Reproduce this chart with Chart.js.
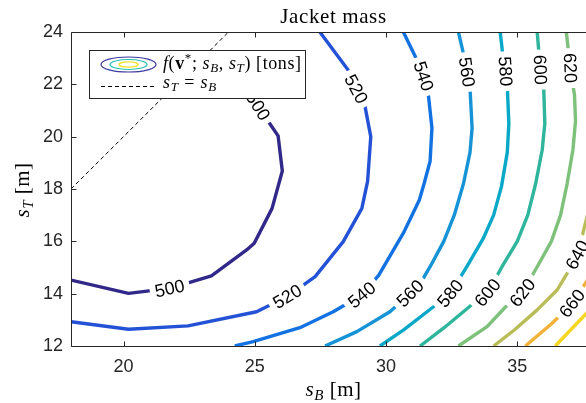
<!DOCTYPE html>
<html><head><meta charset="utf-8">
<script src="https://cdn.jsdelivr.net/npm/chart.js@4/dist/chart.umd.min.js"></script>
<style>
html,body{margin:0;padding:0;overflow:hidden;background:#fff;width:586px;height:403px}
#wrap{position:relative;width:612px;height:403px}
</style></head>
<body><div id="wrap"><canvas id="c" width="612" height="403"></canvas></div>
<script>
// ---- data ----
const xTicks = [20, 25, 30, 35];
const yTicks = [12, 14, 16, 18, 20, 22, 24];
const levels = [500, 520, 540, 560, 580, 600, 620, 640, 660, 680];
const levelColors = ['#31288a','#2352d6','#1272e2','#1593d6','#0aa8c8','#2eb59c','#7dc17a','#b9bd58','#f2b23a','#f7d621'];

const c500x = [18, 20.19, 21.76, 23.35, 24.69, 24.98, 25.66, 26.05, 25.89, 25.55, 25.12, 24.3, 23.4];
const c500y = [14.52, 14.01, 14.2, 14.68, 15.67, 15.93, 17.26, 18.69, 20.03, 20.53, 21.17, 22.1, 23.2];
const c520x = [18, 20.19, 22.46, 25.07, 26.24, 27.3, 28.37, 29.08, 29.3, 29.42, 29.2, 28.86, 28.55, 27.48];
const c520y = [12.93, 12.64, 12.77, 13.31, 13.89, 14.65, 15.99, 17.26, 18.3, 20.0, 21.16, 21.82, 22.56, 24];
const c540x = [24.24, 24.94, 26.72, 27.99, 29.08, 29.72, 30.66, 31.27, 31.45, 31.68, 31.75, 31.62, 31.43, 31.18, 30.66];
const c540y = [12, 12.17, 12.7, 13.31, 13.95, 14.7, 16.31, 17.58, 18.2, 19.06, 20.33, 21.54, 22.31, 22.93, 24];
const c560x = [27.68, 28.89, 30.15, 30.92, 31.43, 31.68, 32.2, 32.6, 32.95, 33.2, 33.28, 33.21, 33.08, 32.96, 32.76];
const c560y = [12, 12.55, 13.31, 14.01, 14.6, 15.03, 16.0, 17.0, 18.2, 19.4, 20.33, 21.67, 22.47, 23.13, 24];
const c580x = [29.77, 30.66, 31.81, 32.45, 33.08, 33.7, 34.1, 34.4, 34.62, 34.68, 34.63, 34.55, 34.44, 34.35];
const c580y = [12, 12.61, 13.5, 14.01, 15.03, 16.1, 17.0, 18.1, 19.4, 20.5, 21.7, 22.5, 23.2, 24];
const c600x = [31.3, 32.19, 33.21, 33.87, 34.42, 35.0, 35.4, 35.7, 35.95, 36.05, 36.01, 35.88, 35.76];
const c600y = [12, 12.68, 13.53, 14.04, 15.03, 16.0, 17.0, 18.2, 19.49, 20.5, 21.8, 22.56, 24];
const c620x = [32.76, 33.85, 34.55, 35.2, 35.76, 36.3, 36.65, 36.9, 37.12, 37.22, 37.18, 37.02, 36.87];
const c620y = [12, 12.74, 13.49, 14.04, 15.03, 16.0, 17.0, 18.2, 19.49, 20.6, 21.6, 22.62, 24];
const c640x = [34.1, 34.9, 35.76, 36.52, 36.9, 37.29, 37.53, 37.8, 38.0];
const c640y = [12, 12.62, 13.38, 14.14, 14.78, 15.48, 16.43, 17.5, 18.3];
const c660x = [35.31, 36.33, 37.09, 37.6, 38.0];
const c660y = [12, 12.87, 13.63, 14.4, 15.0];
const c680x = [36.45, 37.64, 38.0];
const c680y = [12, 13.25, 13.65];
const diagX = [18, 24];
const diagY = [18, 24];

// contour labels: text, x, y, angle(deg)
const labelText  = ['500','520','540','560','580','600','620','640','660','500','520','540','560','580','600','620'];
const labelX     = [21.76, 26.24, 29.08, 30.92, 32.45, 33.87, 35.2, 37.29, 37.09, 25.12, 28.86, 31.43, 33.08, 34.55, 35.88, 37.02];
const labelY     = [14.2, 13.89, 13.95, 14.01, 14.01, 14.04, 14.04, 15.48, 13.63, 21.17, 21.82, 22.31, 22.47, 22.5, 22.56, 22.62];
const labelAngle = [-12, -31, -40, -45, -50, -51, -52, -62, -53, 58, 62, 72, 82, 86, 88, 88];

// ---- build ----
const contourX = [c500x,c520x,c540x,c560x,c580x,c600x,c620x,c640x,c660x,c680x];
const contourY = [c500y,c520y,c540y,c560y,c580y,c600y,c620y,c640y,c660y,c680y];
const pts = (xs, ys) => xs.map((x, i) => ({x: x, y: ys[i]}));

const datasets = contourX.map((xs, i) => ({
  label: String(levels[i]),
  data: pts(xs, contourY[i]),
  showLine: true, borderColor: levelColors[i], borderWidth: 3.4,
  pointRadius: 0, fill: false, tension: 0, borderCapStyle: 'butt', borderJoinStyle: 'round'
}));
datasets.push({
  label: 'diag', data: pts(diagX, diagY), showLine: true, borderColor: '#000',
  borderWidth: 1, borderDash: [4, 3], pointRadius: 0, fill: false
});

const SERIF = '"Liberation Serif","Times New Roman",serif';
const SANS = '"Liberation Sans",Arial,Helvetica,sans-serif';

function rich(ctx, parts, x, y, align, spacing) {
  ctx.letterSpacing = (spacing || 0) + 'px';
  let w = 0;
  parts.forEach(p => { ctx.font = p.f; p.w = ctx.measureText(p.t).width; w += p.w; });
  let cx = align === 'center' ? x - w / 2 : x;
  ctx.textAlign = 'left';
  ctx.textBaseline = 'alphabetic';
  parts.forEach(p => { ctx.font = p.f; ctx.fillText(p.t, cx, y + (p.dy || 0)); cx += p.w; });
  ctx.letterSpacing = '0px';
  return w;
}

const decor = {
  id: 'decor',
  afterDatasetsDraw(chart) {
    const ctx = chart.ctx, xs = chart.scales.x, ys = chart.scales.y, ca = chart.chartArea;
    ctx.save();
    ctx.beginPath(); ctx.rect(ca.left, ca.top, ca.right - ca.left, ca.bottom - ca.top); ctx.clip();
    ctx.font = '18px ' + SANS;
    for (let i = 0; i < labelText.length; i++) {
      const px = xs.getPixelForValue(labelX[i]), py = ys.getPixelForValue(labelY[i]);
      const w = ctx.measureText(labelText[i]).width;
      ctx.save();
      ctx.translate(px, py);
      ctx.rotate(labelAngle[i] * Math.PI / 180);
      ctx.fillStyle = '#fff';
      ctx.fillRect(-w / 2 - 5, -9, w + 10, 18);
      ctx.fillStyle = '#000';
      ctx.textAlign = 'center'; ctx.textBaseline = 'middle';
      ctx.fillText(labelText[i], 0, 1);
      ctx.restore();
    }
    ctx.restore();

    ctx.save();
    ctx.strokeStyle = '#262626'; ctx.lineWidth = 1;
    const L = Math.round(ca.left) + 0.5, R = Math.round(ca.right) + 0.5;
    const T = Math.round(ca.top) + 0.5, B = Math.round(ca.bottom) + 0.5;
    ctx.beginPath();
    ctx.moveTo(L, T); ctx.lineTo(R, T); ctx.lineTo(R, B); ctx.lineTo(L, B); ctx.closePath();
    xTicks.forEach(v => {
      const p = Math.round(xs.getPixelForValue(v)) + 0.5;
      ctx.moveTo(p, B); ctx.lineTo(p, B - 5);
      ctx.moveTo(p, T); ctx.lineTo(p, T + 5);
    });
    yTicks.forEach(v => {
      const p = Math.round(ys.getPixelForValue(v)) + 0.5;
      ctx.moveTo(L, p); ctx.lineTo(L + 5, p);
      ctx.moveTo(R, p); ctx.lineTo(R - 5, p);
    });
    ctx.stroke();
    ctx.restore();
  },
  afterDraw(chart) {
    const ctx = chart.ctx, ca = chart.chartArea;
    ctx.save();
    ctx.fillStyle = '#000';
    // title
    rich(ctx, [{t: 'Jacket mass', f: '21px ' + SERIF}], (ca.left + ca.right) / 2, 23, 'center', 0.6);

    // x label
    rich(ctx, [
      {t: 's', f: 'italic 21px ' + SERIF},
      {t: 'B', f: 'italic 15px ' + SERIF, dy: 4},
      {t: ' [m]', f: '21px ' + SERIF}
    ], (ca.left + ca.right) / 2, 396, 'center', 0.5);

    // y label
    ctx.save();
    ctx.translate(29, 190);
    ctx.rotate(-Math.PI / 2);
    rich(ctx, [
      {t: 's', f: 'italic 21px ' + SERIF},
      {t: 'T', f: 'italic 15px ' + SERIF, dy: 4},
      {t: ' [m]', f: '21px ' + SERIF}
    ], 0, 0, 'center', 0.5);
    ctx.restore();

    // legend box
    ctx.fillStyle = '#fff';
    ctx.fillRect(89.5, 50.5, 216, 48);
    ctx.strokeStyle = '#262626'; ctx.lineWidth = 1;
    ctx.strokeRect(89.5, 50.5, 216, 48);
    const ell = [[27.5, 7.5, '#3f3a9e'], [18.5, 5, '#27bfb4'], [9.5, 2.6, '#f1e12c']];
    ell.forEach(e => {
      ctx.beginPath(); ctx.ellipse(128.5, 64.5, e[0], e[1], 0, 0, Math.PI * 2);
      ctx.strokeStyle = e[2]; ctx.lineWidth = 1.2; ctx.stroke();
    });
    ctx.beginPath(); ctx.setLineDash([4, 3]); ctx.strokeStyle = '#000'; ctx.lineWidth = 1;
    ctx.moveTo(101, 86.5); ctx.lineTo(157, 86.5); ctx.stroke(); ctx.setLineDash([]);
    ctx.fillStyle = '#000';
    rich(ctx, [
      {t: 'f', f: 'italic 18px ' + SERIF},
      {t: '(', f: '18px ' + SERIF},
      {t: 'v', f: 'bold 18px ' + SERIF},
      {t: '*', f: '13px ' + SERIF, dy: -7},
      {t: '; ', f: '18px ' + SERIF},
      {t: 's', f: 'italic 18px ' + SERIF},
      {t: 'B', f: 'italic 13px ' + SERIF, dy: 3},
      {t: ', ', f: '18px ' + SERIF},
      {t: 's', f: 'italic 18px ' + SERIF},
      {t: 'T', f: 'italic 13px ' + SERIF, dy: 3},
      {t: ') [tons]', f: '18px ' + SERIF}
    ], 163, 69, 'left', 0.6);
    rich(ctx, [
      {t: 's', f: 'italic 18px ' + SERIF},
      {t: 'T', f: 'italic 13px ' + SERIF, dy: 3},
      {t: ' = ', f: '18px ' + SERIF},
      {t: 's', f: 'italic 18px ' + SERIF},
      {t: 'B', f: 'italic 13px ' + SERIF, dy: 3}
    ], 163, 88, 'left', 0.8);
    ctx.restore();
  }
};

new Chart(document.getElementById('c'), {
  type: 'scatter',
  data: { datasets: datasets },
  options: {
    responsive: false, animation: false, devicePixelRatio: 1,
    layout: { padding: { left: 0, top: 32, right: 16, bottom: 0 } },
    plugins: { legend: { display: false }, title: { display: false }, tooltip: { enabled: false } },
    scales: {
      x: {
        type: 'linear', min: 18, max: 38,
        grid: { display: false, drawTicks: false }, border: { display: false },
        afterBuildTicks: s => { s.ticks = xTicks.map(v => ({ value: v })); },
        afterFit: s => { s.height = 57; },
        ticks: { padding: 10, color: '#262626', font: { family: SANS, size: 18 }, maxRotation: 0, autoSkip: false }
      },
      y: {
        type: 'linear', min: 12, max: 24,
        grid: { display: false, drawTicks: false }, border: { display: false },
        afterBuildTicks: s => { s.ticks = yTicks.map(v => ({ value: v })); },
        afterFit: s => { s.width = 71; },
        ticks: { padding: 8, color: '#262626', font: { family: SANS, size: 18 }, autoSkip: false }
      }
    }
  },
  plugins: [decor]
});
</script>
</body></html>
